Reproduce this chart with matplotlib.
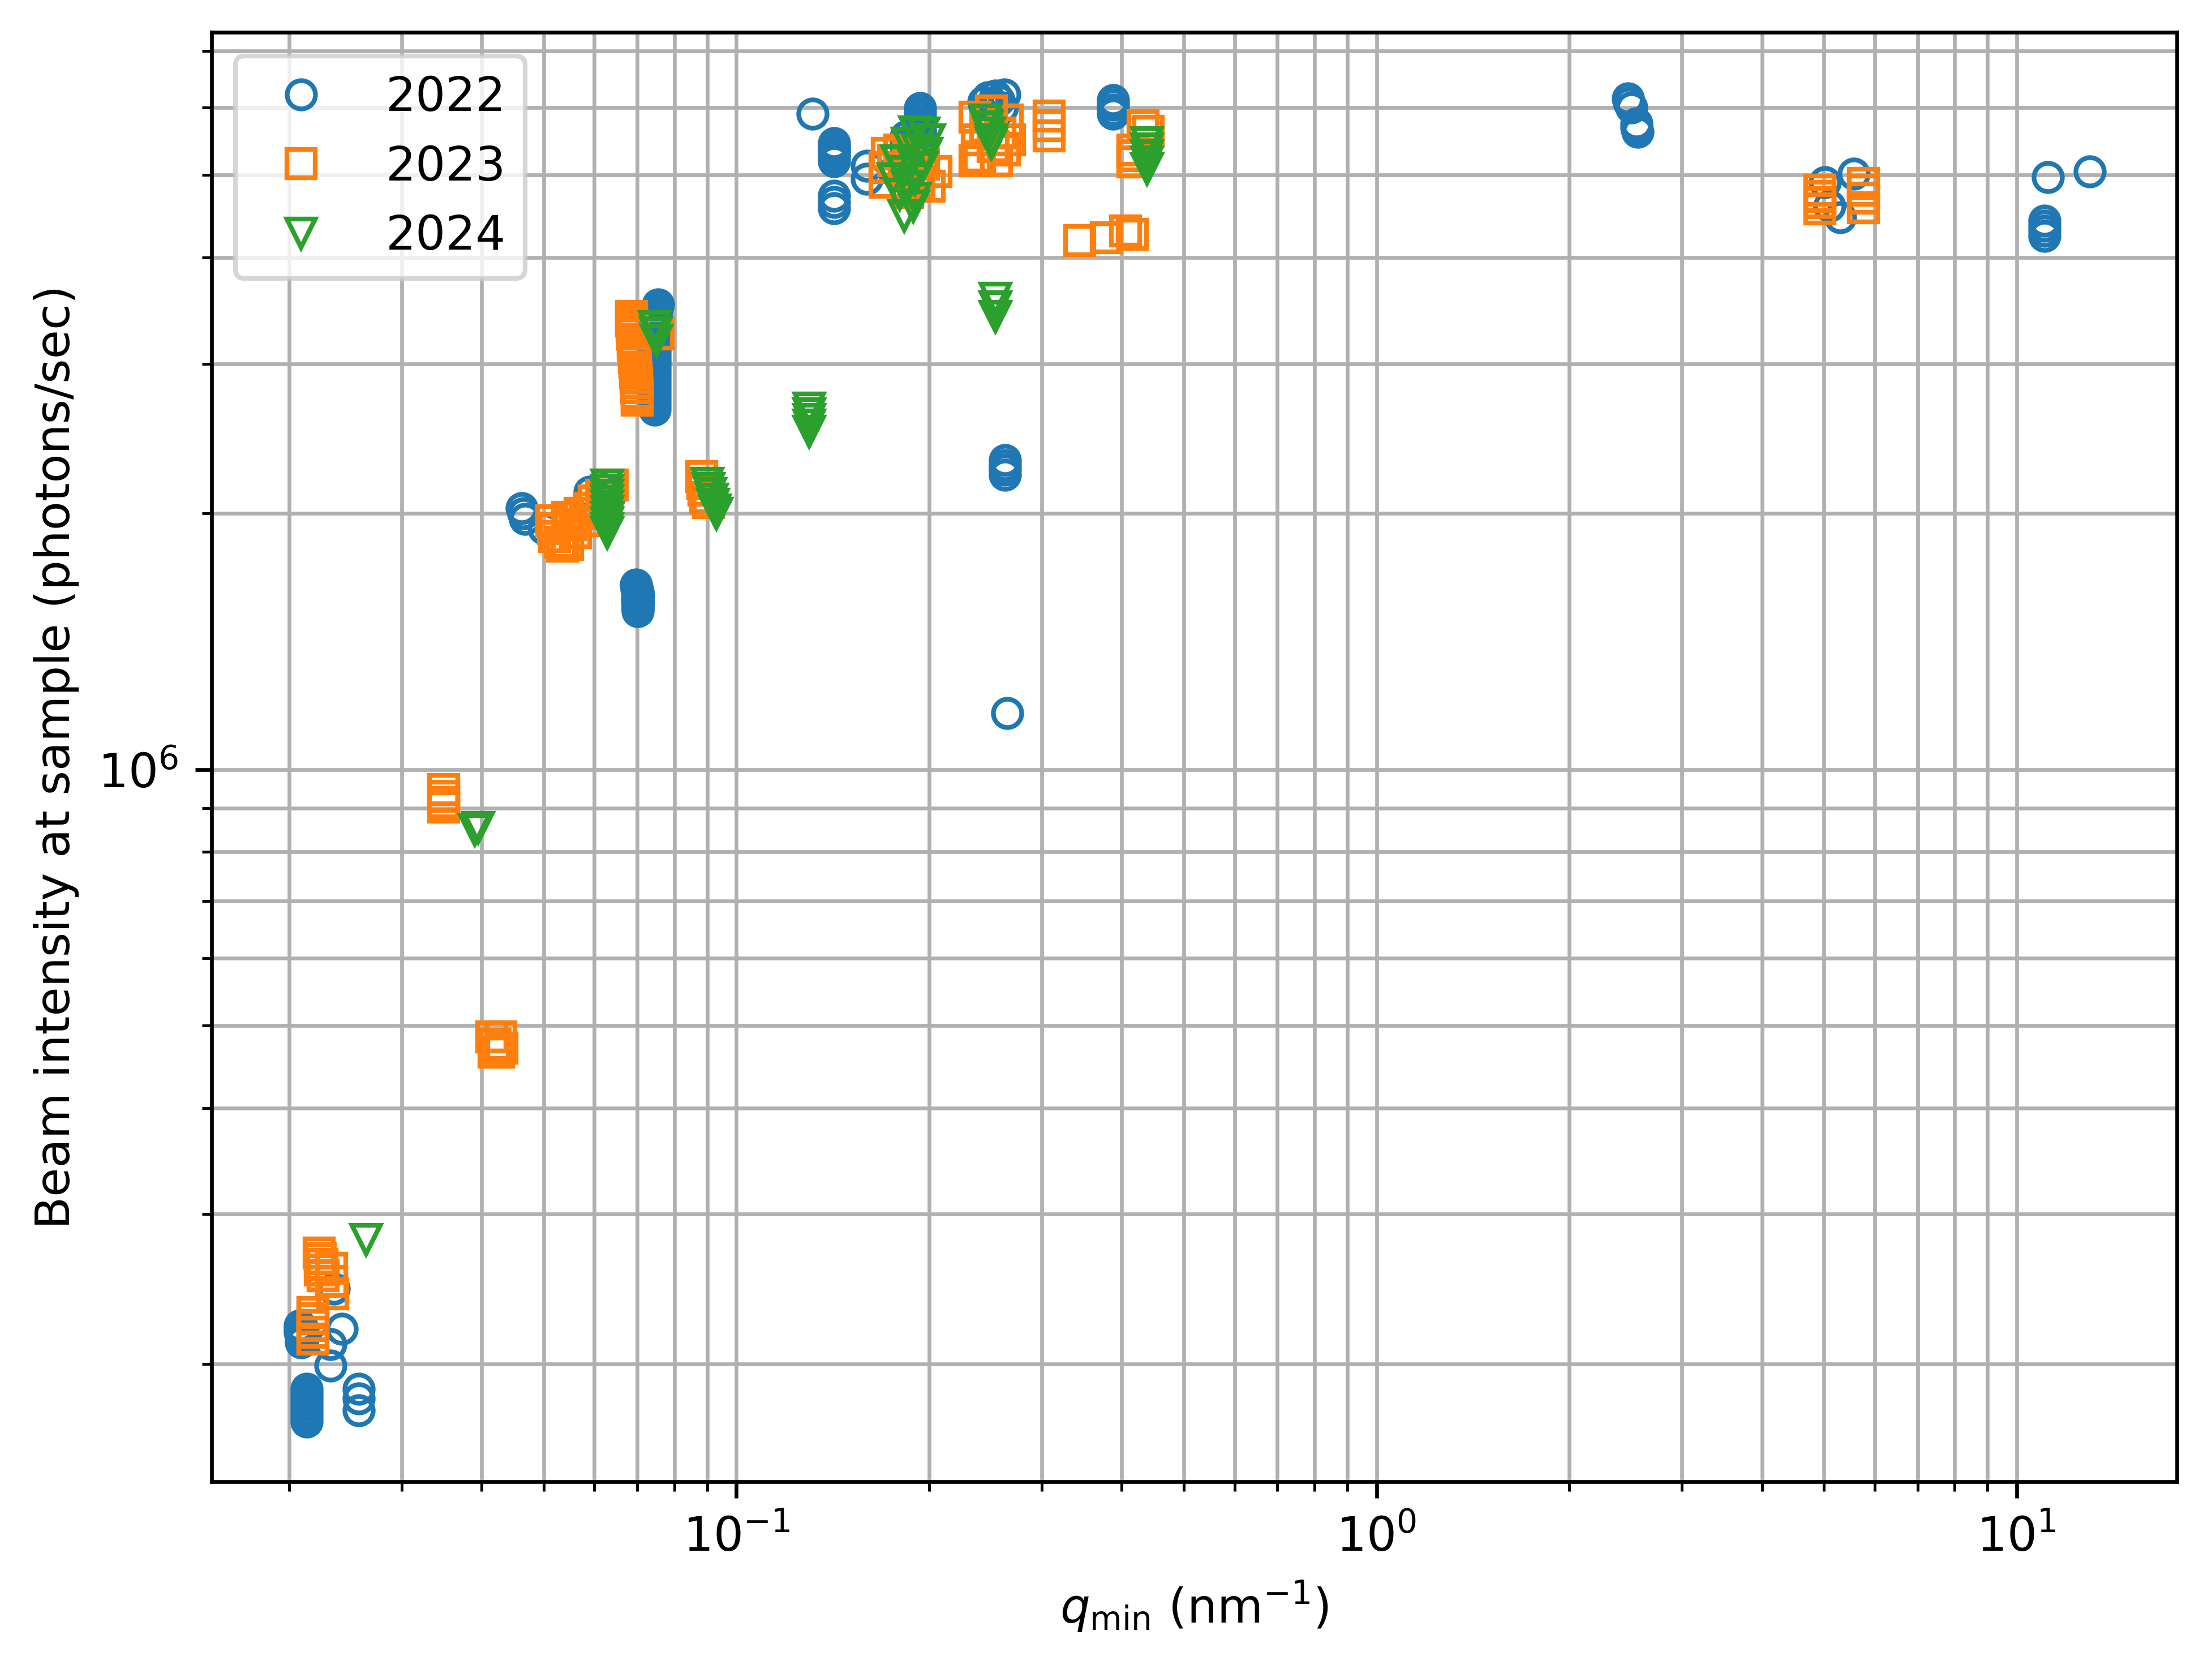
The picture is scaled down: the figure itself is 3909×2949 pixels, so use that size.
import matplotlib
matplotlib.use("Agg")
import matplotlib.pyplot as plt

# ---- data (q_min in nm^-1, intensity in photons/sec) ----
q_2022 = [
    # lowest-q group
    0.0208, 0.0208, 0.0208, 0.0209, 0.0209, 0.0209, 0.0210, 0.0210,
    0.0213, 0.0213, 0.0213, 0.0213, 0.0213, 0.0213, 0.0213, 0.0213, 0.0213,
    0.0232, 0.0232, 0.0242, 0.0235,
    0.0257, 0.0257, 0.0257,
    # ~0.05 group
    0.0462, 0.0465, 0.0468, 0.0500,
    0.0590, 0.0615, 0.0635,
    # 0.07 group
    0.0697, 0.0699, 0.0701, 0.0701, 0.0703, 0.0701, 0.0701,
    0.0699, 0.0701, 0.0703, 0.0700, 0.0701, 0.0701,
    0.0755, 0.0752, 0.0750, 0.0748, 0.0746, 0.0745, 0.0745, 0.0745, 0.0745, 0.0745,
    0.0745, 0.0745, 0.0745, 0.0745, 0.0745, 0.0745, 0.0745, 0.0745, 0.0745, 0.0745,
    0.0745, 0.0745, 0.0745, 0.0745, 0.0745, 0.0745, 0.0745, 0.0745, 0.0745, 0.0745,
    # 0.13 - 0.4 group
    0.1316,
    0.142, 0.142, 0.142, 0.142, 0.142, 0.142, 0.142, 0.142, 0.142,
    0.160, 0.160,
    0.1935, 0.1935, 0.1935, 0.1935, 0.1935, 0.1935, 0.1935, 0.184, 0.184, 0.184,
    0.243, 0.247, 0.250, 0.254, 0.257, 0.260, 0.262,
    0.2626, 0.2626, 0.2626, 0.2626,
    0.265,
    0.3875, 0.3875, 0.3875, 0.3875,
    # high-q groups
    2.47, 2.48, 2.50, 2.55, 2.55, 2.56,
    5.02, 5.57, 5.30, 5.10,
    11.2, 13.02, 11.05, 11.05, 11.05, 11.05]
I_2022 = [
    2.22e5, 2.20e5, 2.18e5, 2.16e5, 2.14e5, 2.12e5, 2.20e5, 2.15e5,
    1.87e5, 1.85e5, 1.83e5, 1.81e5, 1.79e5, 1.77e5, 1.75e5, 1.73e5, 1.71e5,
    2.11e5, 1.99e5, 2.20e5, 2.45e5,
    1.87e5, 1.82e5, 1.765e5,
    2.03e6, 2.00e6, 1.97e6, 1.92e6,
    2.12e6, 2.14e6, 2.10e6,
    1.65e6, 1.63e6, 1.61e6, 1.59e6, 1.57e6, 1.55e6, 1.535e6,
    1.64e6, 1.62e6, 1.60e6, 1.58e6, 1.56e6, 1.545e6,
    3.52e6, 3.49e6, 3.46e6, 3.43e6, 3.40e6, 3.37e6, 3.34e6, 3.31e6, 3.28e6, 3.25e6,
    3.22e6, 3.19e6, 3.16e6, 3.13e6, 3.10e6, 3.07e6, 3.04e6, 3.01e6, 2.98e6, 2.95e6,
    2.92e6, 2.89e6, 2.86e6, 2.83e6, 2.80e6, 2.77e6, 2.74e6, 2.71e6, 2.68e6, 2.65e6,
    5.90e6,
    5.45e6, 5.40e6, 5.35e6, 5.30e6, 5.25e6, 5.19e6, 4.73e6, 4.65e6, 4.57e6,
    5.13e6, 4.95e6,
    5.99e6, 5.92e6, 5.85e6, 5.78e6, 5.72e6, 5.65e6, 5.60e6, 5.55e6, 5.47e6, 5.40e6,
    6.10e6, 6.17e6, 6.05e6, 6.20e6, 6.12e6, 6.00e6, 6.22e6,
    2.31e6, 2.28e6, 2.25e6, 2.22e6,
    1.165e6,
    6.12e6, 6.05e6, 5.97e6, 5.90e6,
    6.15e6, 6.08e6, 6.00e6, 5.75e6, 5.68e6, 5.62e6,
    4.90e6, 5.02e6, 4.46e6, 4.60e6,
    4.97e6, 5.05e6, 4.42e6, 4.36e6, 4.30e6, 4.24e6]

q_2023 = [
    0.0223, 0.0224, 0.0225, 0.0224, 0.0226, 0.0233, 0.0233, 0.0234,
    0.0218, 0.0218, 0.0218, 0.0218, 0.0218,
    0.0349, 0.0349, 0.0349, 0.0349,
    0.0415, 0.0420, 0.0425, 0.0430, 0.0428, 0.0418,
    0.0515, 0.0518, 0.0520, 0.0530, 0.0535, 0.0545, 0.0545, 0.0550, 0.0560,
    0.0570, 0.0580, 0.0590, 0.0600, 0.0615, 0.0630, 0.0640, 0.0625,
    0.0685, 0.0686, 0.0687, 0.0688, 0.0689, 0.0690, 0.0690, 0.0691, 0.0692, 0.0693,
    0.0694, 0.0695, 0.0696, 0.0697, 0.0698, 0.0699, 0.0700, 0.0700, 0.0700, 0.0755,
    0.0882, 0.0886, 0.0890, 0.0895, 0.0905,
    0.1705, 0.1705,
    0.172, 0.176, 0.180, 0.183, 0.186, 0.190, 0.193, 0.196, 0.200, 0.205, 0.185, 0.195,
    0.236, 0.238, 0.240, 0.245, 0.250, 0.252, 0.258, 0.262, 0.265, 0.267, 0.236, 0.255,
    0.308, 0.308, 0.308,
    0.3436, 0.3782, 0.4152, 0.4053,
    0.4316, 0.4395, 0.4164, 0.4164, 0.4164,
    4.93, 4.93, 4.93, 4.93, 5.76, 5.76, 5.76, 5.76]
I_2023 = [
    2.70e5, 2.66e5, 2.62e5, 2.58e5, 2.54e5, 2.59e5, 2.50e5, 2.42e5,
    2.30e5, 2.26e5, 2.22e5, 2.18e5, 2.14e5,
    9.47e5, 9.30e5, 9.15e5, 9.03e5,
    4.85e5, 4.75e5, 4.65e5, 4.70e5, 4.85e5, 4.65e5,
    1.96e6, 1.92e6, 1.88e6, 1.85e6, 1.83e6, 1.84e6, 1.98e6, 1.94e6, 1.90e6,
    2.00e6, 1.96e6, 2.03e6, 2.07e6, 2.10e6, 2.13e6, 2.16e6, 2.05e6,
    3.41e6, 3.37e6, 3.33e6, 3.29e6, 3.25e6, 3.21e6, 3.17e6, 3.13e6, 3.09e6, 3.05e6,
    3.01e6, 2.97e6, 2.93e6, 2.89e6, 2.85e6, 2.81e6, 2.77e6, 2.74e6, 2.72e6, 3.25e6,
    2.21e6, 2.17e6, 2.13e6, 2.09e6, 2.06e6,
    5.10e6, 4.90e6,
    5.30e6, 5.20e6, 5.35e6, 5.10e6, 5.25e6, 5.00e6, 4.90e6, 5.15e6, 4.85e6, 5.05e6, 4.77e6, 5.30e6,
    5.85e6, 5.50e6, 5.25e6, 5.70e6, 5.95e6, 5.40e6, 5.60e6, 5.35e6, 5.80e6, 5.50e6, 5.20e6, 5.20e6,
    5.87e6, 5.72e6, 5.56e6,
    4.19e6, 4.22e6, 4.26e6, 4.30e6,
    5.72e6, 5.63e6, 5.35e6, 5.27e6, 5.18e6,
    4.80e6, 4.72e6, 4.64e6, 4.56e6, 4.89e6, 4.80e6, 4.70e6, 4.58e6]

q_2024 = [
    0.0264,
    0.0390, 0.0395,
    0.0628, 0.0628, 0.0628, 0.0628, 0.0628, 0.0628, 0.0628, 0.0628, 0.0628, 0.0628,
    0.0745, 0.0748, 0.0750,
    0.0900, 0.0905, 0.0910, 0.0915, 0.0920, 0.0925, 0.0930,
    0.1298, 0.1298, 0.1298, 0.1298, 0.1298,
    0.190, 0.196, 0.200, 0.185, 0.192, 0.198, 0.178, 0.188, 0.195,
    0.182, 0.176, 0.190, 0.185, 0.180, 0.190, 0.189, 0.183,
    0.245, 0.246, 0.248, 0.250, 0.250,
    0.2537, 0.2537, 0.2537,
    0.4383, 0.4383, 0.4383, 0.4383, 0.4383]
I_2024 = [
    2.80e5,
    8.50e5, 8.55e5,
    2.16e6, 2.13e6, 2.10e6, 2.07e6, 2.04e6, 2.01e6, 1.98e6, 1.95e6, 1.92e6, 1.90e6,
    3.32e6, 3.26e6, 3.20e6,
    2.17e6, 2.14e6, 2.11e6, 2.08e6, 2.05e6, 2.02e6, 2.00e6,
    2.66e6, 2.62e6, 2.58e6, 2.54e6, 2.50e6,
    5.62e6, 5.60e6, 5.50e6, 5.45e6, 5.35e6, 5.30e6, 5.20e6, 5.20e6, 5.10e6,
    5.05e6, 4.95e6, 4.95e6, 4.85e6, 4.75e6, 4.70e6, 4.60e6, 4.48e6,
    5.80e6, 5.70e6, 5.60e6, 5.50e6, 5.45e6,
    3.58e6, 3.50e6, 3.41e6,
    5.46e6, 5.37e6, 5.27e6, 5.18e6, 5.09e6]

years = ["2022", "2023", "2024"]
series = [(q_2022, I_2022, "o"), (q_2023, I_2023, "s"), (q_2024, I_2024, "v")]

fig = plt.figure(figsize=(3909 / 600, 2949 / 600), dpi=600)
ax = fig.add_axes([374 / 3909, 1 - 2618 / 2949, (3847 - 374) / 3909, (2618 - 57) / 2949])

for (q, I, m), lab in zip(series, years):
    ax.plot(q, I, m, mfc="none", linestyle="none", label=lab)

ax.set_xscale("log")
ax.set_yscale("log")
ax.set_xlim(0.01514, 17.8)
ax.set_ylim(1.454e5, 7.36e6)
ax.grid(True, which="both")
ax.set_xlabel(r"$q_{\rm min}$ (nm$^{-1}$)")
ax.set_ylabel("Beam intensity at sample (photons/sec)")
ax.legend(loc="upper left")

fig.savefig("out.png", dpi=600)
